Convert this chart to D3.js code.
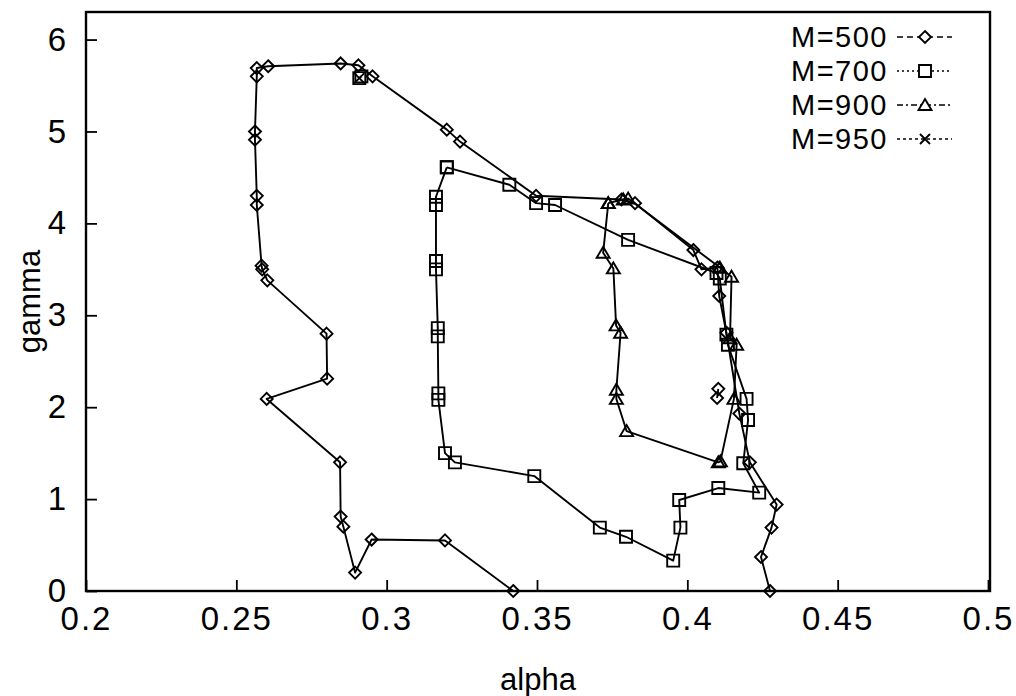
<!DOCTYPE html>
<html>
<head>
<meta charset="utf-8">
<script src="https://cdn.jsdelivr.net/npm/d3@7"></script>
<style>
  html, body { margin: 0; padding: 0; background: #fff; }
  svg { display: block; }
  text { font-family: "Liberation Sans", Arial, Helvetica, sans-serif; fill: #000; }
</style>
</head>
<body>
<svg id="chart" width="1016" height="696"></svg>
<script>
// Trajectories in the (alpha, gamma) plane for several values of M.
// null marks a break in the connecting line.
const m500 = [
  [0.3421, 0.00], [0.3194, 0.55], [0.2950, 0.56], [0.2895, 0.20], [0.2856, 0.70],
  [0.2847, 0.81], [0.2845, 1.40], [0.2601, 2.09], [0.2802, 2.31], [0.2800, 2.80],
  [0.2603, 3.38], [0.2586, 3.50], [0.2584, 3.54], [0.2568, 4.20], [0.2568, 4.30],
  [0.2562, 4.91], [0.2562, 5.00], [0.2568, 5.60], [0.2568, 5.69], [0.2606, 5.71],
  [0.2847, 5.74], [0.2906, 5.72], [0.2953, 5.60], [0.3200, 5.02], [0.3244, 4.89],
  [0.3497, 4.30], [0.3781, 4.26], [0.3826, 4.22], [0.4020, 3.71], [0.4047, 3.50],
  [0.4100, 3.52], [0.4106, 3.21], [0.4130, 2.81], [0.4173, 1.93], [0.4208, 1.40],
  [0.4297, 0.94], [0.4280, 0.69], [0.4245, 0.37], [0.4275, 0.00],
  null,
  [0.4103, 2.20], [0.4099, 2.10]
];

const m700 = [
  [0.3200, 4.61], [0.3164, 4.29], [0.3164, 4.20], [0.3164, 3.59], [0.3164, 3.50],
  [0.3170, 2.86], [0.3170, 2.77], [0.3172, 2.15], [0.3172, 2.08], [0.3194, 1.50],
  [0.3227, 1.40], [0.3491, 1.25], [0.3709, 0.69], [0.3796, 0.59], [0.3953, 0.33],
  [0.3977, 0.69], [0.3973, 0.99], [0.4103, 1.12], [0.4239, 1.07], [0.4186, 1.39],
  [0.4202, 1.86], [0.4197, 2.09], [0.4135, 2.68], [0.4130, 2.79], [0.4108, 3.40],
  [0.4097, 3.46], [0.3803, 3.82], [0.3560, 4.20], [0.3497, 4.22], [0.3408, 4.42],
  [0.3200, 4.61],
  null,
  [0.2909, 5.58], [0.2916, 5.60]
];

const m900 = [
  [0.3737, 4.22], [0.3720, 3.68], [0.3754, 3.51], [0.3763, 2.89], [0.3778, 2.81],
  [0.3764, 2.19], [0.3764, 2.09], [0.3798, 1.74], [0.4103, 1.40], [0.4110, 1.41],
  [0.4155, 2.09], [0.4164, 2.68], [0.4142, 2.75], [0.4147, 3.42], [0.4108, 3.52],
  [0.3803, 4.27], [0.3787, 4.26], [0.3737, 4.22]
];

const m950 = [
  [0.2909, 5.58]
];

const seriesNames = ["M=500", "M=700", "M=900", "M=950"];
const xTicks = [0.2, 0.25, 0.3, 0.35, 0.4, 0.45, 0.5];
const xTickLabels = ["0.2", "0.25", "0.3", "0.35", "0.4", "0.45", "0.5"];
const yTicks = [0, 1, 2, 3, 4, 5, 6];
const yTickLabels = ["0", "1", "2", "3", "4", "5", "6"];

// Marker shapes, given as d3.symbol types (each shape has a fixed radius).
const diamondType = { draw(ctx) { const r = 6;
  ctx.moveTo(0, -r); ctx.lineTo(r, 0); ctx.lineTo(0, r); ctx.lineTo(-r, 0); ctx.closePath(); } };
const squareType = { draw(ctx) { const r = 6;
  ctx.moveTo(-r, -r); ctx.lineTo(r, -r); ctx.lineTo(r, r); ctx.lineTo(-r, r); ctx.closePath(); } };
const triangleType = { draw(ctx) { const w = 6.5, h = 6;
  ctx.moveTo(0, -h); ctx.lineTo(w, h - 1); ctx.lineTo(-w, h - 1); ctx.closePath(); } };
const crossType = { draw(ctx) { const r = 5;
  ctx.moveTo(-r, -r); ctx.lineTo(r, r); ctx.moveTo(r, -r); ctx.lineTo(-r, r); } };

const series = [
  { name: seriesNames[0], data: m500, type: diamondType,  dash: "6,4" },
  { name: seriesNames[1], data: m700, type: squareType,   dash: "2,3" },
  { name: seriesNames[2], data: m900, type: triangleType, dash: "6,3,2,3" },
  { name: seriesNames[3], data: m950, type: crossType,    dash: "3,3" }
];

const svg = d3.select("#chart");

const x = d3.scaleLinear().domain([0.2, 0.5]).range([86, 988]);
const y = d3.scaleLinear().domain([0, 6.3]).range([591, 12]);

// Frame
svg.append("rect")
  .attr("x", 86).attr("y", 12)
  .attr("width", 990 - 86).attr("height", 591 - 12)
  .attr("fill", "none").attr("stroke", "#000").attr("stroke-width", 2.4);

// Axes with inward ticks
const xAxis = d3.axisBottom(x)
  .tickValues(xTicks)
  .tickFormat((d, i) => xTickLabels[i])
  .tickSizeInner(-11).tickSizeOuter(0);
const gx = svg.append("g").attr("transform", "translate(0,591)").call(xAxis);
gx.select(".domain").remove();
gx.selectAll(".tick line").attr("stroke", "#000").attr("stroke-width", 1.8);
gx.selectAll(".tick text")
  .attr("font-size", 33).attr("letter-spacing", 2)
  .attr("dy", "0.71em").attr("y", 16);

const yAxis = d3.axisLeft(y)
  .tickValues(yTicks)
  .tickFormat((d, i) => yTickLabels[i])
  .tickSizeInner(-11).tickSizeOuter(0);
const gy = svg.append("g").attr("transform", "translate(86,0)").call(yAxis);
gy.select(".domain").remove();
gy.selectAll(".tick line").attr("stroke", "#000").attr("stroke-width", 1.8);
gy.selectAll(".tick text").attr("font-size", 33).attr("x", -20);

// Axis titles
svg.append("text")
  .attr("x", (86 + 990) / 2).attr("y", 690)
  .attr("text-anchor", "middle").attr("font-size", 31)
  .text("alpha");
svg.append("text")
  .attr("transform", "translate(40," + ((12 + 591) / 2) + ") rotate(-90)")
  .attr("text-anchor", "middle").attr("font-size", 31)
  .text("gamma");

// Data lines and markers
const line = d3.line()
  .defined(d => d !== null)
  .x(d => x(d[0])).y(d => y(d[1]));

const plot = svg.append("g");
series.forEach(s => {
  plot.append("path")
    .datum(s.data)
    .attr("d", line)
    .attr("fill", "none")
    .attr("stroke", "#000")
    .attr("stroke-width", 1.9)
    .attr("stroke-linejoin", "round");
  plot.selectAll(null)
    .data(s.data.filter(d => d !== null))
    .join("path")
    .attr("transform", d => `translate(${x(d[0])},${y(d[1])})`)
    .attr("d", d3.symbol().type(s.type))
    .attr("fill", "none")
    .attr("stroke", "#000")
    .attr("stroke-width", 1.9);
});

// Legend
const legend = svg.append("g");
series.forEach((s, i) => {
  const cy = 37 + i * 34;
  legend.append("text")
    .attr("x", 888).attr("y", cy)
    .attr("dy", "0.36em")
    .attr("text-anchor", "end")
    .attr("font-size", 29)
    .attr("letter-spacing", 1.5)
    .text(s.name);
  legend.append("line")
    .attr("x1", 897).attr("x2", 952)
    .attr("y1", cy).attr("y2", cy)
    .attr("stroke", "#000").attr("stroke-width", 1.4)
    .attr("stroke-dasharray", s.dash);
  legend.append("path")
    .attr("transform", `translate(925,${cy})`)
    .attr("d", d3.symbol().type(s.type))
    .attr("fill", "#fff")
    .attr("stroke", "#000")
    .attr("stroke-width", 1.9);
});
</script>
</body>
</html>
